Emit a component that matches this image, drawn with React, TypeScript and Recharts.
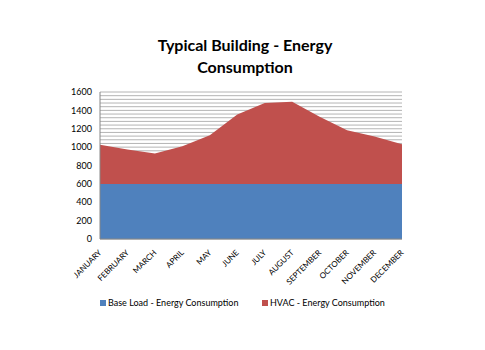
import React from 'react';
import { AreaChart, Area, XAxis, YAxis, CartesianGrid } from 'recharts';

const months = ['JANUARY', 'FEBRUARY', 'MARCH', 'APRIL', 'MAY', 'JUNE', 'JULY', 'AUGUST', 'SEPTEMBER', 'OCTOBER', 'NOVEMBER', 'DECEMBER'];
const baseLoad = [600, 600, 600, 600, 600, 600, 600, 600, 600, 600, 600, 600];
const hvac = [425, 375, 330, 410, 530, 755, 880, 895, 730, 585, 515, 430];
const yTicks = [0, 200, 400, 600, 800, 1000, 1200, 1400, 1600];

const data = months.map((m, i) => ({ month: m, base: baseLoad[i], hvac: hvac[i] }));
const Y_MAX = 1600;
const GRID_STEP = 40;

const FONT = 'Lato, "Open Sans", sans-serif';
const BLUE = '#4F81BD';
const RED = '#C0504D';

const XTick = (props: any) => {
  const { x, y, payload } = props;
  return (
    <g transform={`translate(${x},${y + 4})`}>
      <text transform="rotate(-45)" textAnchor="end" fontSize={8} fontFamily={FONT} fill="#000" dy={3}>
        {payload.value}
      </text>
    </g>
  );
};

const gridGen = ({ offset }: any) => {
  const out: number[] = [];
  for (let v = 0; v <= Y_MAX; v += GRID_STEP) {
    out.push(offset.top + offset.height * (1 - v / Y_MAX));
  }
  return out;
};

const legendItems = [
  { label: 'Base Load - Energy Consumption', color: BLUE, left: 100 },
  { label: 'HVAC - Energy Consumption', color: RED, left: 262 },
];

export default function App() {
  return (
    <div style={{ position: 'absolute', left: 0, top: 0, width: 485, height: 350, background: '#fff' }}>
      <div style={{ position: 'absolute', left: 0, top: 34, width: 490, textAlign: 'center', fontFamily: FONT, fontWeight: 700, fontSize: 16, lineHeight: '22px', color: '#000' }}>
        Typical Building - Energy<br />Consumption
      </div>
      <AreaChart width={485} height={350} data={data} margin={{ top: 92, right: 83, left: 0, bottom: 55 }}>
        <CartesianGrid vertical={false} horizontalCoordinatesGenerator={gridGen} stroke="#b4b4b4" strokeWidth={1} />
        <XAxis dataKey="month" tick={<XTick />} tickLine={false} axisLine={{ stroke: '#868686' }} height={56} interval={0} />
        <YAxis width={100} domain={[0, Y_MAX]} ticks={yTicks} tick={{ fontSize: 9, fontFamily: FONT, fill: '#000' }} axisLine={{ stroke: '#868686' }} tickLine={false} />
        <Area type="linear" dataKey="base" stackId="1" stroke="none" fill={BLUE} fillOpacity={1} isAnimationActive={false} />
        <Area type="linear" dataKey="hvac" stackId="1" stroke="none" fill={RED} fillOpacity={1} isAnimationActive={false} />
      </AreaChart>
      {legendItems.map((it, i) => (
        <div key={i} style={{ position: 'absolute', top: 297, left: it.left, display: 'flex', alignItems: 'center', fontFamily: FONT, fontSize: 9, color: '#000', whiteSpace: 'nowrap' }}>
          <span style={{ display: 'inline-block', width: 6, height: 6, background: it.color, marginRight: 2 }} />
          <span>{it.label}</span>
        </div>
      ))}
    </div>
  );
}
